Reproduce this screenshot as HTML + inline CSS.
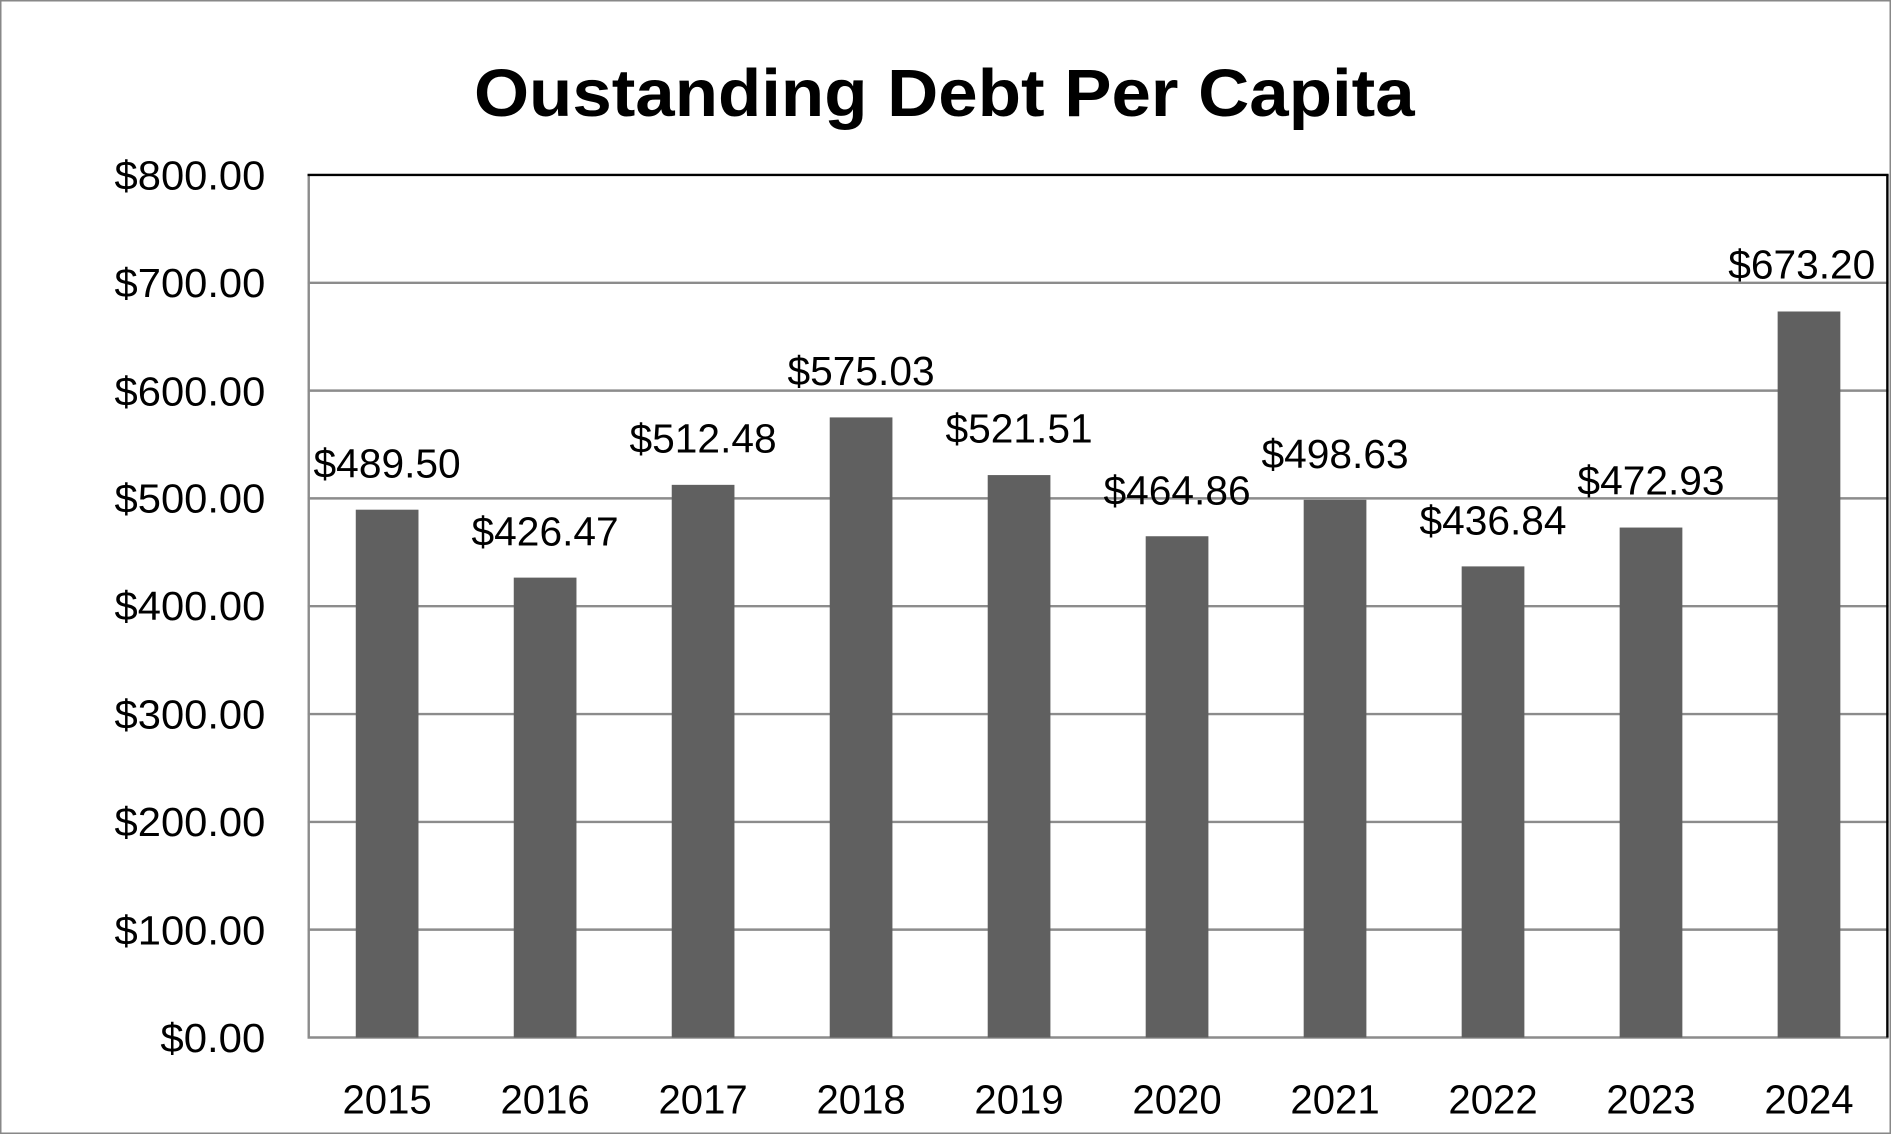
<!DOCTYPE html>
<html><head><meta charset="utf-8"><style>html,body{margin:0;padding:0;background:#fff}svg{display:block}</style></head>
<body>
<svg width="1891" height="1134" viewBox="0 0 1568 940" preserveAspectRatio="none" xmlns="http://www.w3.org/2000/svg" font-family="Liberation Sans, sans-serif">
<rect x="0.5" y="0.5" width="1567" height="939" fill="#fff" stroke="#888" stroke-width="1.5"/>
<text x="783" y="96" text-anchor="middle" font-size="55" font-weight="bold" textLength="780" lengthAdjust="spacingAndGlyphs">Oustanding Debt Per Capita</text>
<g stroke="#8c8c8c" stroke-width="2">
<line x1="255" y1="234.4" x2="1566" y2="234.4"/>
<line x1="255" y1="323.8" x2="1566" y2="323.8"/>
<line x1="255" y1="413.1" x2="1566" y2="413.1"/>
<line x1="255" y1="502.5" x2="1566" y2="502.5"/>
<line x1="255" y1="591.9" x2="1566" y2="591.9"/>
<line x1="255" y1="681.3" x2="1566" y2="681.3"/>
<line x1="255" y1="770.6" x2="1566" y2="770.6"/>
<line x1="255" y1="860" x2="1566" y2="860"/>
<line x1="256" y1="145" x2="256" y2="860"/>
</g>
<line x1="255" y1="145" x2="1566" y2="145" stroke="#000" stroke-width="2"/>
<line x1="1565" y1="145" x2="1565" y2="860" stroke="#000" stroke-width="2"/>
<g fill="#606060">
<rect x="295" y="422.5" width="52" height="437.5"/>
<rect x="426" y="478.8" width="52" height="381.2"/>
<rect x="557" y="401.9" width="52" height="458.1"/>
<rect x="688" y="346" width="52" height="514"/>
<rect x="819" y="393.8" width="52" height="466.2"/>
<rect x="950" y="444.5" width="52" height="415.5"/>
<rect x="1081" y="414.3" width="52" height="445.7"/>
<rect x="1212" y="469.5" width="52" height="390.5"/>
<rect x="1343" y="437.3" width="52" height="422.7"/>
<rect x="1474" y="258.2" width="52" height="601.8"/>
</g>
<g font-size="34" text-anchor="end">
<text x="220" y="157" textLength="125" lengthAdjust="spacingAndGlyphs">$800.00</text>
<text x="220" y="246" textLength="125" lengthAdjust="spacingAndGlyphs">$700.00</text>
<text x="220" y="336" textLength="125" lengthAdjust="spacingAndGlyphs">$600.00</text>
<text x="220" y="425" textLength="125" lengthAdjust="spacingAndGlyphs">$500.00</text>
<text x="220" y="514" textLength="125" lengthAdjust="spacingAndGlyphs">$400.00</text>
<text x="220" y="604" textLength="125" lengthAdjust="spacingAndGlyphs">$300.00</text>
<text x="220" y="693" textLength="125" lengthAdjust="spacingAndGlyphs">$200.00</text>
<text x="220" y="783" textLength="125" lengthAdjust="spacingAndGlyphs">$100.00</text>
<text x="220" y="872" textLength="87" lengthAdjust="spacingAndGlyphs">$0.00</text>
</g>
<g font-size="34" text-anchor="middle">
<text x="321" y="923" textLength="74" lengthAdjust="spacingAndGlyphs">2015</text>
<text x="452" y="923" textLength="74" lengthAdjust="spacingAndGlyphs">2016</text>
<text x="583" y="923" textLength="74" lengthAdjust="spacingAndGlyphs">2017</text>
<text x="714" y="923" textLength="74" lengthAdjust="spacingAndGlyphs">2018</text>
<text x="845" y="923" textLength="74" lengthAdjust="spacingAndGlyphs">2019</text>
<text x="976" y="923" textLength="74" lengthAdjust="spacingAndGlyphs">2020</text>
<text x="1107" y="923" textLength="74" lengthAdjust="spacingAndGlyphs">2021</text>
<text x="1238" y="923" textLength="74" lengthAdjust="spacingAndGlyphs">2022</text>
<text x="1369" y="923" textLength="74" lengthAdjust="spacingAndGlyphs">2023</text>
<text x="1500" y="923" textLength="74" lengthAdjust="spacingAndGlyphs">2024</text>
</g>
<g font-size="34" text-anchor="middle">
<text x="321" y="396" textLength="122" lengthAdjust="spacingAndGlyphs">$489.50</text>
<text x="452" y="452" textLength="122" lengthAdjust="spacingAndGlyphs">$426.47</text>
<text x="583" y="375" textLength="122" lengthAdjust="spacingAndGlyphs">$512.48</text>
<text x="714" y="319" textLength="122" lengthAdjust="spacingAndGlyphs">$575.03</text>
<text x="845" y="367" textLength="122" lengthAdjust="spacingAndGlyphs">$521.51</text>
<text x="976" y="418" textLength="122" lengthAdjust="spacingAndGlyphs">$464.86</text>
<text x="1107" y="388" textLength="122" lengthAdjust="spacingAndGlyphs">$498.63</text>
<text x="1238" y="443" textLength="122" lengthAdjust="spacingAndGlyphs">$436.84</text>
<text x="1369" y="410" textLength="122" lengthAdjust="spacingAndGlyphs">$472.93</text>
<text x="1494" y="231" textLength="122" lengthAdjust="spacingAndGlyphs">$673.20</text>
</g>
</svg>
</body></html>
